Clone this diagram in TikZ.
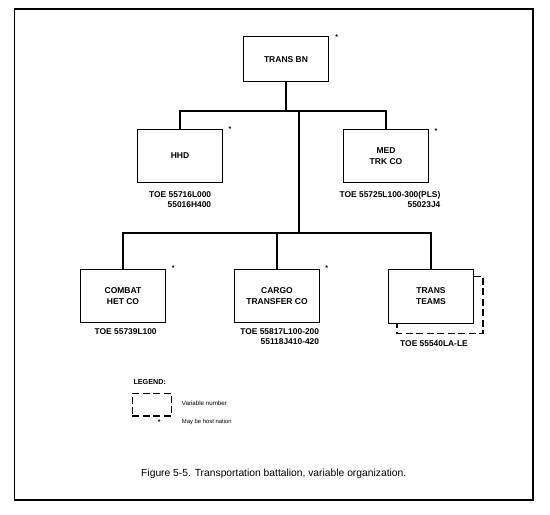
\documentclass[tikz,border=0pt]{standalone}
\usepackage{fontspec}
\setmainfont{Liberation Sans}
\usetikzlibrary{calc}

\tikzset{
  unit/.style={draw,line width=0.9pt,minimum width=85pt,minimum height=53.4pt,
    align=center,inner sep=1pt,font=\fontsize{8.5}{10.7}\selectfont\bfseries},
  toe/.style={align=right,inner sep=0pt,font=\fontsize{8.4}{10}\selectfont\bfseries},
  hn/.style={inner sep=0pt,font=\fontsize{7}{7}\selectfont\bfseries},
  link/.style={line width=1.6pt},
  varnum/.style={line width=1.2pt,dash pattern=on 7pt off 3.5pt},
}

\begin{document}
\begin{tikzpicture}[x=1pt,y=-1pt]
  \useasboundingbox (0,0) rectangle (550,515);
  \draw[line width=1.2pt] (14.5,9) rectangle (533,500);

  % units
  \node[unit,minimum height=45pt] (bn) at (286,59.2) {TRANS BN};
  \node[unit] (hhd) at (180,156) {HHD};
  \node[unit] (med) at (386,156) {MED\\TRK CO};
  \node[unit] (combat) at (123,296) {COMBAT\\HET CO};
  \node[unit] (cargo) at (277,296) {CARGO\\TRANSFER CO};
  \node[unit] (teams) at (431,296.3) {TRANS\\TEAMS};

  % may be host nation
  \node[hn] (bnstar) at (336.7,37) {*};
  \node[hn] (hhdstar) at (230,129) {*};
  \node[hn] (medstar) at (436,131.5) {*};
  \node[hn] (combatstar) at (173.3,268.5) {*};
  \node[hn] (cargostar) at (326.7,268.5) {*};

  % TOE numbers
  \node[toe] (hhdtoe) at (180.2,199.3) {TOE 55716L000\\55016H400};
  \node[toe] (medtoe) at (390,199.3) {TOE 55725L100-300(PLS)\\55023J4};
  \node[toe] (combattoe) at (125.7,331.7) {TOE 55739L100};
  \node[toe] (cargotoe) at (279.7,337) {TOE 55817L100-200\\55118J410-420};
  \node[toe] (teamstoe) at (434,344) {TOE 55540LA-LE};

  % connectors
  \coordinate (bar1) at (286,111);
  \coordinate (trunk) at (299,111);
  \coordinate (bar2) at (299,232.7);
  \draw[link] (bn.south) -- (bar1);
  \draw[link] (hhd.north) |- (bar1) -| (med.north);
  \draw[link] (trunk) -- (bar2);
  \draw[link] (combat.north) |- (bar2) -| (teams.north);
  \draw[link] (cargo.north) -- (cargo.north |- bar2);

  % variable number
  \draw[varnum] ($(teams.north east)+(0,7)$) -- ++(9,0)
    |- ($(teams.south west)+(9,10)$) -- ($(teams.south west)+(9,0)$);

  % legend
  \node[anchor=west,inner sep=0pt,font=\fontsize{7.2}{8}\selectfont\bfseries] (leghead) at (133.3,381.7) {LEGEND:};
  \node[draw,varnum,minimum width=39.4pt,minimum height=22.7pt,inner sep=0pt] (legbox) at (152,404.7) {};
  \node[anchor=west,inner sep=0pt,font=\fontsize{6.2}{7}\selectfont] (legvar) at (181.7,403.3) {Variable number};
  \node[hn] (legstar) at (159.3,422.5) {*};
  \node[anchor=west,inner sep=0pt,font=\fontsize{5.9}{7}\selectfont] (leghost) at (181.7,422.3) {May be host nation};

  \node[anchor=west,inner sep=0pt,font=\fontsize{10.3}{12}\selectfont] (caption) at (141,474) {Figure 5-5. Transportation battalion, variable organization.};
\end{tikzpicture}
\end{document}
